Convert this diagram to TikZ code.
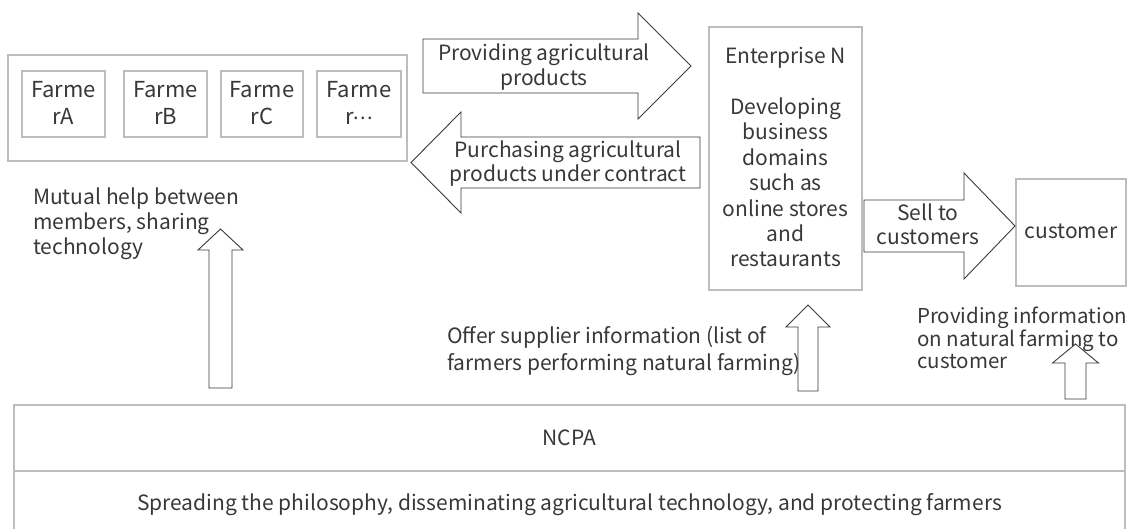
\documentclass[tikz,border=0pt]{standalone}
\usepackage{fontspec}
\setmainfont{Noto Sans CJK JP}
\usetikzlibrary{positioning}

\definecolor{boxgray}{HTML}{BDBDBD}
\definecolor{inkgray}{HTML}{383838}
\definecolor{arrowink}{HTML}{3A3A3A}

\tikzset{
  graybox/.style={draw=boxgray, line width=1.3pt},
  blockarrow/.style={draw=arrowink, line width=0.9pt, fill=white, line join=miter},
  % multi-line labels are placed by the baseline of their last line
  lbl/.style={text=inkgray, font=\fontsize{21}{25}\selectfont, inner sep=0pt, align=center, anchor=base},
  lblleft/.style={lbl, align=left, anchor=base west},
}

% right/left-pointing block arrow: tail x, head base x, tip x, centre y, half body, half head, tip name
\newcommand{\hblock}[7]{%
  \draw[blockarrow] (#1,#4-#5) -- (#2,#4-#5) -- (#2,#4-#6) -- (#3,#4)
    -- (#2,#4+#6) -- (#2,#4+#5) -- (#1,#4+#5) -- cycle;
  \coordinate (#7) at (#3,#4);}
% upward block arrow: centre x, tail y, head base y, tip y, half body, half head, tip name
\newcommand{\upblock}[7]{%
  \draw[blockarrow] (#1-#5,#2) -- (#1-#5,#3) -- (#1-#6,#3) -- (#1,#4)
    -- (#1+#6,#3) -- (#1+#5,#3) -- (#1+#5,#2) -- cycle;
  \coordinate (#7) at (#1,#4);}
\newcommand{\middots}{\raisebox{0.45ex}{\fontsize{20}{20}\selectfont .\kern1pt.\kern1pt.}}

\begin{document}
\begin{tikzpicture}[x=1pt,y=-1pt]
\useasboundingbox (0,0) rectangle (1127,529);
\fill[white] (0,0) rectangle (1127,529);

% farmers group
\draw[graybox] (8,55) rectangle (407,161);
\draw[graybox] (22,71) rectangle (105,137);
\draw[graybox] (124,71) rectangle (207,137);
\draw[graybox] (221,71) rectangle (303,137);
\draw[graybox] (317,71) rectangle (401,137);
\tikzset{farmer/.style={lbl, font=\fontsize{22}{27}\selectfont}}
\node[farmer] (fa) at (63.5,125) {Farme\\rA};
\node[farmer] (fb) at (165.5,125) {Farme\\rB};
\node[farmer] (fc) at (262,125) {Farme\\rC};
\node[farmer] (fd) at (359,125) {Farme\\r\middots};

% enterprise and customer
\draw[graybox] (709,27) rectangle (862,290);
\node[lbl, font=\fontsize{21}{25.4}\selectfont] (ent) at (785.5,267)
  {Enterprise N\\[25.4pt]Developing\\business\\domains\\such as\\online stores\\and\\restaurants};
\draw[graybox] (1016,179) rectangle (1126,286);
\node[lbl] (cust) at (1071,239) {customer};

% NCPA band
\draw[graybox] (14,529) -- (14,405) -- (1125,405) -- (1125,529);
\draw[draw=boxgray, line width=2.4pt] (14,471) -- (1125,471);
\node[lbl] (ncpa) at (569.5,445) {NCPA};
\node[lbl] (role) at (569.5,510) {Spreading the philosophy, disseminating agricultural technology, and protecting farmers};

% horizontal block arrows
\hblock{423}{638}{691}{66}{27}{53}{provtip}
\node[lbl] (prov) at (544,86) {Providing agricultural\\products};
\hblock{700}{461}{411}{162.5}{25.5}{50.5}{purchtip}
\node[lbl, font=\fontsize{21}{24}\selectfont] (purch) at (568,182) {Purchasing agricultural\\products under contract};
\hblock{864}{964}{1015}{226}{26}{53}{selltip}
\node[lbl, font=\fontsize{21}{24}\selectfont] (sell) at (928,245) {Sell to\\customers};

% upward block arrows from NCPA
\upblock{220.5}{388}{250}{229}{11.5}{22.5}{mutualtip}
\node[lblleft] (mutual) at (33,255) {Mutual help between\\members, sharing\\technology};
\upblock{808}{391}{327}{305}{10}{22}{offertip}
\node[lblleft, font=\fontsize{21}{27}\selectfont] (offer) at (447,370)
  {Offer supplier information (list of\\farmers performing natural farming)};
\upblock{1075.5}{399}{363}{344}{10.5}{23}{infotip}
\node[lblleft, font=\fontsize{20.5}{21.5}\selectfont] (info) at (917,368)
  {Providing information\\on natural farming to\\customer};
\end{tikzpicture}
\end{document}
